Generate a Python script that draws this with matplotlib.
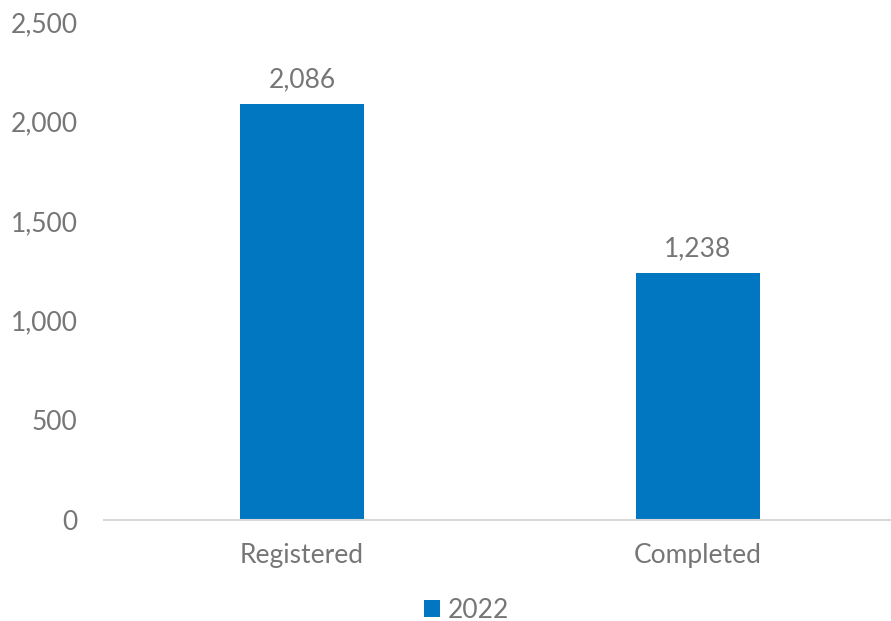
import matplotlib
matplotlib.use("Agg")
import matplotlib.pyplot as plt
from matplotlib.ticker import FuncFormatter, MultipleLocator
from matplotlib.patches import Patch

categories = ["Registered", "Completed"]
values_2022 = [2086, 1238]
series_name = "2022"

BLUE = "#0077C0"
GREY = "#767676"
AXIS = "#D9D9D9"

plt.rcParams["font.family"] = ["Lato", "DejaVu Sans"]

fig = plt.figure(figsize=(8.91, 6.21), dpi=100)
ax = fig.add_axes([104 / 891, 101 / 621, 792 / 891, 498 / 621])

x = range(len(categories))
bars = ax.bar(x, values_2022, width=0.313, color=BLUE, zorder=2)

ax.set_xlim(-0.5, len(categories) - 0.5)
ax.set_ylim(0, 2500)
ax.yaxis.set_major_locator(MultipleLocator(500))
ax.yaxis.set_major_formatter(FuncFormatter(lambda v, p: f"{int(v):,}"))

ax.set_xticks(list(x))
ax.set_xticklabels(categories)

for s in ["top", "right", "left"]:
    ax.spines[s].set_visible(False)
ax.spines["bottom"].set_color(AXIS)
ax.spines["bottom"].set_linewidth(1.5)

ax.tick_params(axis="both", length=0, colors=GREY, labelsize=19)
ax.tick_params(axis="y", pad=19)
ax.tick_params(axis="x", pad=16.5)
for lbl in ax.get_xticklabels() + ax.get_yticklabels():
    lbl.set_color(GREY)

for rect, v in zip(bars, values_2022):
    ax.annotate(f"{v:,}", (rect.get_x() + rect.get_width() / 2, v),
                xytext=(0, 9), textcoords="offset points",
                ha="center", va="bottom", fontsize=19, color=GREY)

handle = Patch(facecolor=BLUE, edgecolor="none")
fig.legend([handle], [series_name], loc="center", bbox_to_anchor=(467 / 891, 1 - 610 / 621),
           frameon=False, handlelength=0.6, handleheight=0.6,
           handletextpad=0.3, labelcolor=GREY, prop={"size": 19})

fig.savefig("out.png", dpi=100)
